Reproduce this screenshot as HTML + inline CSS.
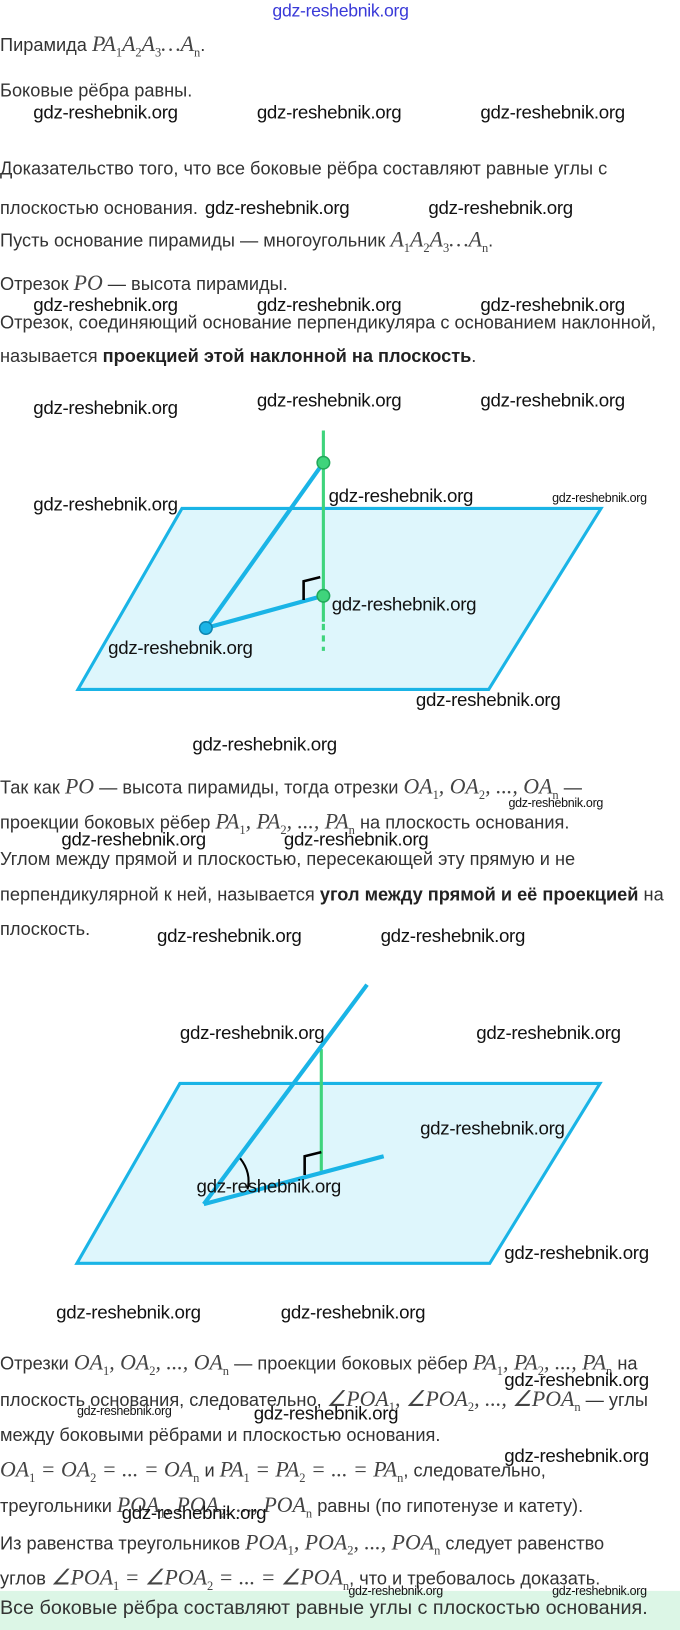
<!DOCTYPE html>
<html><head><meta charset="utf-8">
<style>
html,body{margin:0;padding:0;background:#fff;width:680px;height:1630px;overflow:hidden}
#w{position:absolute;left:0;top:0;width:654px;height:1568px;transform:scale(1.0398);transform-origin:0 0}
.t{position:absolute;left:0;white-space:nowrap;font-family:"Liberation Sans",sans-serif;font-size:17.5px;color:#333;line-height:20px}
.m{font-family:"Liberation Serif",serif;font-style:italic;font-size:21px;color:#444}
.m sub{font-style:normal;font-size:12px}
.wm{position:absolute;white-space:nowrap;font-family:"Liberation Sans",sans-serif;font-size:18px;color:#111;line-height:18px;letter-spacing:-0.3px}
.s{font-size:12px;letter-spacing:-0.3px;line-height:12px}
b{color:#222}
</style></head><body><div id="w">
<div class="wm" style="left:262px;top:2px;color:#3a3ad8;font-size:17px">gdz-reshebnik.org</div>

<div class="t" style="top:32px">Пирамида <span class="m">PA<sub>1</sub>A<sub>2</sub>A<sub>3</sub>…A<sub>n</sub></span>.</div>
<div class="t" style="top:77px">Боковые рёбра равны.</div>
<div class="t" style="top:152px">Доказательство того, что все боковые рёбра составляют равные углы с</div>
<div class="t" style="top:190px">плоскостью основания.</div>
<div class="t" style="top:220px">Пусть основание пирамиды — многоугольник <span class="m">A<sub>1</sub>A<sub>2</sub>A<sub>3</sub>…A<sub>n</sub></span>.</div>
<div class="t" style="top:262px">Отрезок <span class="m">PO</span> — высота пирамиды.</div>
<div class="t" style="top:300px">Отрезок, соединяющий основание перпендикуляра с основанием наклонной,</div>
<div class="t" style="top:332px">называется <b>проекцией этой наклонной на плоскость</b>.</div>

<div class="t" style="top:746px">Так как <span class="m">PO</span> — высота пирамиды, тогда отрезки <span class="m">OA<sub>1</sub>, OA<sub>2</sub>, ..., OA<sub>n</sub></span> —</div>
<div class="t" style="top:780px">проекции боковых рёбер <span class="m">PA<sub>1</sub>, PA<sub>2</sub>, ..., PA<sub>n</sub></span> на плоскость основания.</div>
<div class="t" style="top:816px">Углом между прямой и плоскостью, пересекающей эту прямую и не</div>
<div class="t" style="top:850px">перпендикулярной к ней, называется <b>угол между прямой и её проекцией</b> на</div>
<div class="t" style="top:883px">плоскость.</div>

<div class="t" style="top:1300px">Отрезки <span class="m">OA<sub>1</sub>, OA<sub>2</sub>, ..., OA<sub>n</sub></span> — проекции боковых рёбер <span class="m">PA<sub>1</sub>, PA<sub>2</sub>, ..., PA<sub>n</sub></span> на</div>
<div class="t" style="top:1335px">плоскость основания, следовательно, <span class="m">∠POA<sub>1</sub>, ∠POA<sub>2</sub>, ..., ∠POA<sub>n</sub></span> — углы</div>
<div class="t" style="top:1370px">между боковыми рёбрами и плоскостью основания.</div>
<div class="t" style="top:1403px"><span class="m">OA<sub>1</sub> = OA<sub>2</sub> = ... = OA<sub>n</sub></span> и <span class="m">PA<sub>1</sub> = PA<sub>2</sub> = ... = PA<sub>n</sub></span>, следовательно,</div>
<div class="t" style="top:1437px">треугольники <span class="m">POA<sub>1</sub>, POA<sub>2</sub>, ..., POA<sub>n</sub></span> равны (по гипотенузе и катету).</div>
<div class="t" style="top:1473px">Из равенства треугольников <span class="m">POA<sub>1</sub>, POA<sub>2</sub>, ..., POA<sub>n</sub></span> следует равенство</div>
<div class="t" style="top:1507px">углов <span class="m">∠POA<sub>1</sub> = ∠POA<sub>2</sub> = ... = ∠POA<sub>n</sub></span>, что и требовалось доказать.</div>
<div style="position:absolute;left:0;top:1530px;width:654px;height:38px;background:#dcf6e6"></div>
<div class="t" style="top:1537px;font-size:19px">Все боковые рёбра составляют равные углы с плоскостью основания.</div>

<svg style="position:absolute;left:0;top:0" width="654" height="1568">
<polygon points="175,489 578,489 470,663 75,663" fill="#def6fc" stroke="#1ab4e6" stroke-width="3" stroke-linejoin="miter"/>
<line x1="311" y1="414" x2="311" y2="598" stroke="#3fd47c" stroke-width="3"/>
<line x1="311" y1="600" x2="311" y2="626" stroke="#3fd47c" stroke-width="3" stroke-dasharray="6,5"/>
<line x1="311" y1="445" x2="198" y2="604" stroke="#1ab4e6" stroke-width="4"/>
<line x1="198" y1="604" x2="311" y2="573" stroke="#1ab4e6" stroke-width="4"/>
<polyline points="292,577 292,559 308,555" fill="none" stroke="#000" stroke-width="2.5"/>
<circle cx="311" cy="445" r="6" fill="#3fd47c" stroke="#22a85a" stroke-width="1.5"/>
<circle cx="311" cy="573" r="6" fill="#3fd47c" stroke="#22a85a" stroke-width="1.5"/>
<circle cx="198" cy="604" r="6" fill="#1ab4e6" stroke="#0e85b0" stroke-width="1.5"/>

<polygon points="173,1042 577,1042 471,1215 74,1215" fill="#def6fc" stroke="#1ab4e6" stroke-width="3"/>
<line x1="309" y1="1009" x2="309" y2="1126" stroke="#3fd47c" stroke-width="3"/>
<line x1="196" y1="1158" x2="353" y2="947" stroke="#1ab4e6" stroke-width="4"/>
<line x1="196" y1="1158" x2="369" y2="1112" stroke="#1ab4e6" stroke-width="4"/>
<polyline points="293,1130 293,1112 309,1108" fill="none" stroke="#000" stroke-width="2.5"/>
<path d="M231,1114 Q242,1128 238,1144" fill="none" stroke="#000" stroke-width="2"/>
</svg>

<div class="wm" style="left:32px;top:99px">gdz-reshebnik.org</div>
<div class="wm" style="left:247px;top:99px">gdz-reshebnik.org</div>
<div class="wm" style="left:462px;top:99px">gdz-reshebnik.org</div>
<div class="wm" style="left:197px;top:191px">gdz-reshebnik.org</div>
<div class="wm" style="left:412px;top:191px">gdz-reshebnik.org</div>
<div class="wm" style="left:32px;top:284px">gdz-reshebnik.org</div>
<div class="wm" style="left:247px;top:284px">gdz-reshebnik.org</div>
<div class="wm" style="left:462px;top:284px">gdz-reshebnik.org</div>
<div class="wm" style="left:247px;top:376px">gdz-reshebnik.org</div>
<div class="wm" style="left:462px;top:376px">gdz-reshebnik.org</div>
<div class="wm" style="left:32px;top:383px">gdz-reshebnik.org</div>
<div class="wm" style="left:32px;top:476px">gdz-reshebnik.org</div>
<div class="wm" style="left:316px;top:468px">gdz-reshebnik.org</div>
<div class="wm s" style="left:531px;top:473px">gdz-reshebnik.org</div>
<div class="wm" style="left:319px;top:572px">gdz-reshebnik.org</div>
<div class="wm" style="left:104px;top:614px">gdz-reshebnik.org</div>
<div class="wm" style="left:400px;top:664px">gdz-reshebnik.org</div>
<div class="wm" style="left:185px;top:707px">gdz-reshebnik.org</div>
<div class="wm s" style="left:489px;top:766px">gdz-reshebnik.org</div>
<div class="wm" style="left:59px;top:798px">gdz-reshebnik.org</div>
<div class="wm" style="left:273px;top:798px">gdz-reshebnik.org</div>
<div class="wm" style="left:151px;top:891px">gdz-reshebnik.org</div>
<div class="wm" style="left:366px;top:891px">gdz-reshebnik.org</div>
<div class="wm" style="left:173px;top:984px">gdz-reshebnik.org</div>
<div class="wm" style="left:458px;top:984px">gdz-reshebnik.org</div>
<div class="wm" style="left:404px;top:1076px">gdz-reshebnik.org</div>
<div class="wm" style="left:189px;top:1132px">gdz-reshebnik.org</div>
<div class="wm" style="left:485px;top:1196px">gdz-reshebnik.org</div>
<div class="wm" style="left:54px;top:1253px">gdz-reshebnik.org</div>
<div class="wm" style="left:270px;top:1253px">gdz-reshebnik.org</div>
<div class="wm" style="left:485px;top:1318px">gdz-reshebnik.org</div>
<div class="wm s" style="left:74px;top:1351px">gdz-reshebnik.org</div>
<div class="wm" style="left:244px;top:1350px">gdz-reshebnik.org</div>
<div class="wm" style="left:485px;top:1391px">gdz-reshebnik.org</div>
<div class="wm" style="left:117px;top:1446px">gdz-reshebnik.org</div>
<div class="wm s" style="left:335px;top:1524px">gdz-reshebnik.org</div>
<div class="wm s" style="left:531px;top:1524px">gdz-reshebnik.org</div>
</div></body></html>
